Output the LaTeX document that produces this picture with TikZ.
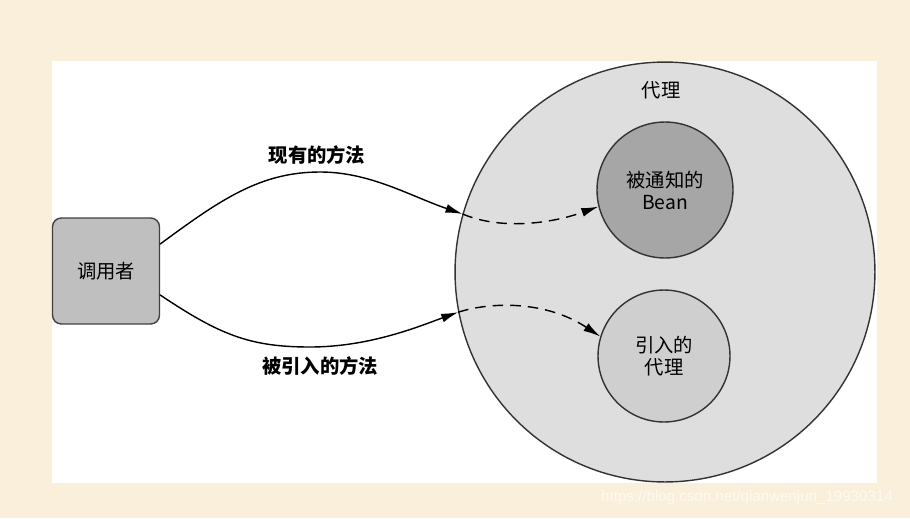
\documentclass[tikz,border=0pt]{standalone}
\usepackage{fontspec}
\setmainfont{Noto Sans CJK SC}
\newfontfamily\urlfont{Liberation Sans}
\usetikzlibrary{arrows.meta}
\definecolor{cream}{HTML}{FAEFDA}

\begin{document}
\begin{tikzpicture}[x=0.02cm,y=-0.02cm,>={Latex[length=3.4mm,width=1.8mm]},
  font=\fontsize{11}{12.5}\selectfont,line cap=round,
  callerbox/.style={draw=black!75,fill=black!25,rounded corners=5pt,
    minimum width=2.14cm,minimum height=2.12cm,line width=0.8pt},
  ball/.style={circle,draw=black!80,line width=0.8pt,inner sep=0pt,align=center},
  flow/.style={->,line width=0.8pt},
  dflow/.style={flow,line cap=butt,dash pattern=on 6pt off 4pt}]
\useasboundingbox[fill=cream] (0,0) rectangle (910,518);
\fill[white] (52,61) rectangle (877,483);
\node[ball,fill=black!13,minimum size=8.4cm] (proxy) at (665,272) {};
\node (proxylbl) at (661,90) {代理};
\node[ball,fill=black!35,minimum size=2.72cm] (advised) at (665,190) {被通知的\\Bean};
\node[ball,fill=black!19,minimum size=2.64cm] (intro) at (664,356) {引入的\\代理};
\node[callerbox] (caller) at (106,271) {调用者};
\coordinate (topin) at (proxy.164);
\coordinate (botin) at (proxy.191);
% existing methods
\draw[flow] ([yshift=0.54cm]caller.east) .. controls (220,200) and (260,172) .. (320,172)
  .. controls (370,172) and (410,196) .. (topin);
\draw[dflow] (topin) .. controls (500,230) and (550,224) .. (advised.194);
\node[font=\fontsize{11}{12.5}\selectfont\bfseries] (exlbl) at (317,155) {现有的方法};
% introduced methods
\draw[flow] ([yshift=-0.48cm]caller.east) .. controls (220,335) and (250,347) .. (310,347)
  .. controls (370,347) and (420,326) .. (botin);
\draw[dflow] (botin) .. controls (490,302) and (545,300) .. (intro.163);
\node[font=\fontsize{11}{12.5}\selectfont\bfseries] (inlbl) at (320,366) {被引入的方法};
\node[font=\urlfont\fontsize{8.6}{10}\selectfont,text=white!70!cream] (mark) at (747,498)
  {https://blog.csdn.net/qianwenjun\_19930314};
\end{tikzpicture}
\end{document}
